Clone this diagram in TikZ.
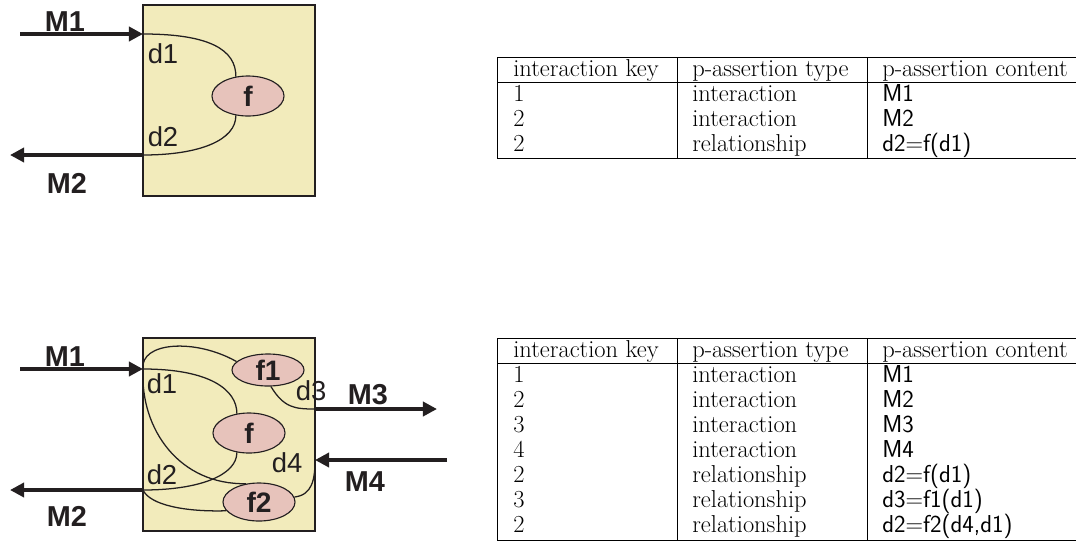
\documentclass[tikz,border=0pt]{standalone}
\usepackage{fontspec}
\newfontfamily\diagramFont{Liberation Sans}
\usetikzlibrary{arrows.meta,shapes.geometric}
\definecolor{boxColor}{RGB}{242,235,187}
\definecolor{funcColor}{RGB}{231,195,187}
\definecolor{edgeColor}{RGB}{35,31,32}
\tikzstyle{boxStyle} = [draw=edgeColor, fill=boxColor, line width=1.1pt]
\tikzstyle{funcStyle} = [ellipse, draw=edgeColor, fill=funcColor, line width=0.8pt, minimum width=1.8cm, minimum height=1cm, inner sep=0pt, text=edgeColor, font=\diagramFont\fontsize{20}{20}\selectfont\bfseries]
\tikzstyle{dataLine} = [draw=edgeColor, line width=0.9pt]
\tikzstyle{messageArrow} = [draw=edgeColor, line width=2.8pt, -{Triangle[length=10pt,width=10pt]}]
\tikzstyle{messageText} = [font=\diagramFont\fontsize{20.5}{20}\selectfont\bfseries, text=edgeColor]
\tikzstyle{dataText} = [font=\diagramFont\fontsize{19.5}{19}\selectfont, text=edgeColor]
\tikzstyle{cellText} = [anchor=base west, inner sep=0pt, font=\fontsize{17.4}{18}\selectfont]
\tikzstyle{cellContent} = [anchor=base west, inner sep=0pt, font=\fontsize{17.4}{18}\selectfont\sffamily]
\tikzstyle{tableLine} = [draw=black, line width=0.6pt]
\newcommand{\tableFrame}[3]{
  \draw [tableLine] (497,#1) -- (1080,#1);
  \draw [tableLine] (497,#2) -- (1080,#2);
  \draw [tableLine] (497,#3) -- (1080,#3);
  \foreach \column in {497,677,867} {
    \draw [tableLine] (\column,#1) -- (\column,#3);
  }
}
\newcommand{\tableRow}[5]{
  \node [cellText] (key#1) at (513,#2) {#3};
  \node [cellText] (type#1) at (692,#2) {#4};
  \node [cellContent] (content#1) at (882,#2) {#5};
}

\begin{document}
\begin{tikzpicture}[x=0.025cm, y=-0.025cm]
  \useasboundingbox (0,0) rectangle (1076,541);

  % upper diagram
  \filldraw [boxStyle] (143,5) rectangle (315,196);
  \node [funcStyle] (f) at (248,96) {f};
  \coordinate (inA) at (143,34);
  \coordinate (outA) at (143,155);
  \coordinate (startA) at (20,34);
  \coordinate (endA) at (10,155);
  \draw [dataLine] (inA) .. controls (210,34) and (236,50) .. (f.122);
  \draw [dataLine] (f.238) .. controls (236,140) and (200,155) .. (outA);
  \draw [messageArrow] (startA) -- (inA);
  \draw [messageArrow] (outA) -- (endA);
  \node [messageText] (mOneA) at (65,22) {M1};
  \node [messageText] (mTwoA) at (67,183) {M2};
  \node [dataText] (dOneA) at (163,54) {d1};
  \node [dataText] (dTwoA) at (163,137) {d2};

  % lower diagram
  \filldraw [boxStyle] (143,338) rectangle (315,531);
  \node [funcStyle, minimum height=0.8cm] (fOne) at (268,370) {f1};
  \node [funcStyle] (fB) at (249,433) {f};
  \node [funcStyle, minimum height=0.95cm] (fTwo) at (259,502) {f2};
  \coordinate (inB) at (143,369);
  \coordinate (outB) at (143,490);
  \coordinate (outC) at (315,409);
  \coordinate (inD) at (315,460);
  \coordinate (startB) at (20,369);
  \coordinate (endB) at (10,490);
  \coordinate (endC) at (437,409);
  \coordinate (startD) at (447,460);
  \draw [dataLine] (inB) .. controls (210,369) and (237,390) .. (fB.122);
  \draw [dataLine] (inB) .. controls (140,342) and (195,338) .. (fOne.165);
  \draw [dataLine] (inB) .. controls (140,430) and (180,485) .. (fTwo.125);
  \draw [dataLine] (fOne.280) .. controls (284,408) and (295,409) .. (outC);
  \draw [dataLine] (fB.238) .. controls (237,475) and (200,490) .. (outB);
  \draw [dataLine] (fTwo.195) .. controls (185,512) and (150,505) .. (outB);
  \draw [dataLine] (fTwo.8) .. controls (312,495) and (315,480) .. (inD);
  \draw [messageArrow] (startB) -- (inB);
  \draw [messageArrow] (outB) -- (endB);
  \draw [messageArrow] (outC) -- (endC);
  \draw [messageArrow] (startD) -- (inD);
  \node [messageText] (mOneB) at (65,357) {M1};
  \node [messageText] (mTwoB) at (67,516) {M2};
  \node [messageText] (mThreeB) at (368,395) {M3};
  \node [messageText] (mFourB) at (365,482) {M4};
  \node [dataText] (dOneB) at (162,384) {d1};
  \node [dataText] (dTwoB) at (162,475) {d2};
  \node [dataText] (dThreeB) at (311,391) {d3};
  \node [dataText] (dFourB) at (287,463) {d4};

  % upper table
  \tableFrame{57}{82}{158}
  \tableRow{aHead}{76}{interaction key}{p-assertion type}{\rmfamily p-assertion content}
  \tableRow{aOne}{101}{1}{interaction}{M1}
  \tableRow{aTwo}{126}{2}{interaction}{M2}
  \tableRow{aThree}{151}{2}{relationship}{d2$=$f(d1)}

  % lower table
  \tableFrame{338}{363}{540}
  \tableRow{bHead}{357}{interaction key}{p-assertion type}{\rmfamily p-assertion content}
  \tableRow{bOne}{382}{1}{interaction}{M1}
  \tableRow{bTwo}{407}{2}{interaction}{M2}
  \tableRow{bThree}{432}{3}{interaction}{M3}
  \tableRow{bFour}{457}{4}{interaction}{M4}
  \tableRow{bFive}{482}{2}{relationship}{d2$=$f(d1)}
  \tableRow{bSix}{507}{3}{relationship}{d3$=$f1(d1)}
  \tableRow{bSeven}{532}{2}{relationship}{d2$=$f2(d4,d1)}
\end{tikzpicture}
\end{document}
